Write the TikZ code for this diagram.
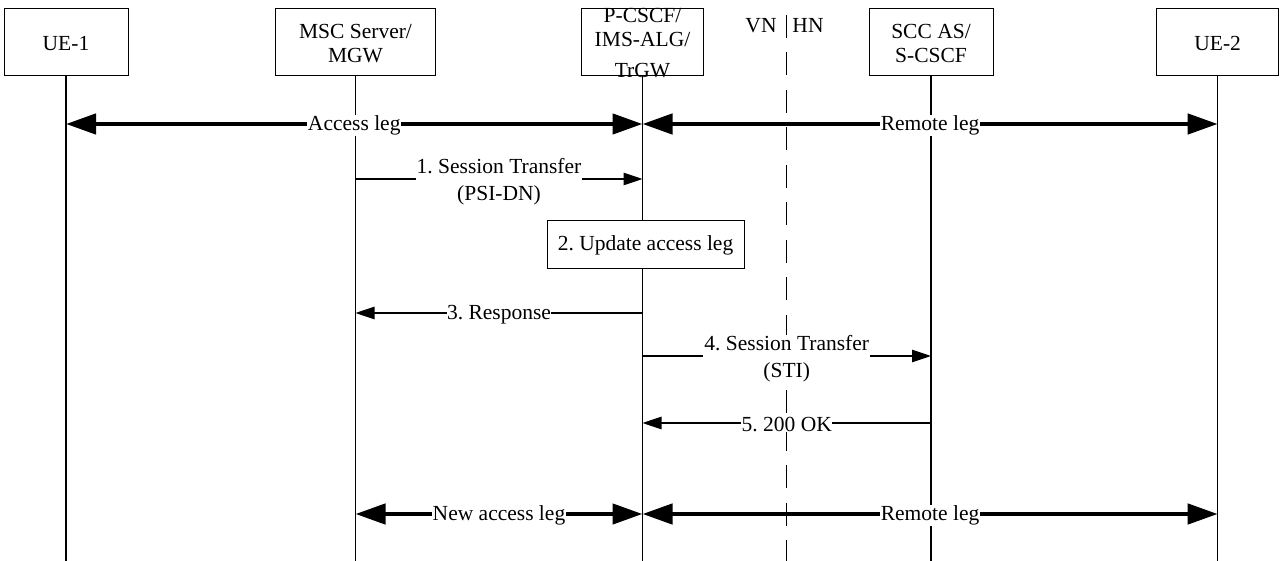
\documentclass[tikz,border=0pt]{standalone}
\usepackage{fontspec}
\setmainfont{Liberation Serif}
\usetikzlibrary{arrows.meta}
\frenchspacing
\begin{document}
\begin{tikzpicture}[x=1pt,y=-1pt,
  every node/.style={font=\fontsize{21.5}{24.5}\selectfont},
  ent/.style={draw, line width=1pt, minimum height=67.5pt, inner sep=0pt, fill=white},
  enttxt/.style={align=center, inner sep=0pt},
  life/.style={line width=1.2pt},
  msg/.style={line width=1.2pt, -{Triangle[length=19pt,width=12.5pt]}},
  leg/.style={line width=4.5pt, {Triangle[length=30pt,width=20pt]}-{Triangle[length=30pt,width=20pt]}},
  lbl/.style={fill=white, inner sep=1pt, align=center, font=\fontsize{21.5}{27}\selectfont},
  lbl1/.style={lbl, inner sep=0.5pt, yshift=-1.5pt},
  lbl2/.style={lbl, yshift=-3pt},
  netline/.style={line width=1.2pt, dash pattern=on 23pt off 14.5pt},
]
\fill[white] (0,0) rectangle (1280,561);
\useasboundingbox (0,0) rectangle (1280,561);

% entity boxes
\node[ent, minimum width=124pt] (ue1) at (66,42) {};
\node[enttxt] (ue1t) at (66,43.5) {UE-1};
\node[ent, minimum width=160.5pt] (msc) at (355.5,42) {};
\node[enttxt] (msct) at (355.5,43.5) {MSC Server/\\MGW};
\node[ent, minimum width=122.5pt] (pcscf) at (642.5,42) {};
\node[enttxt] (pcscft) at (642.5,43) {P-CSCF/\\IMS-ALG/\\[6pt]TrGW};
\node[ent, minimum width=124pt] (scc) at (931,42) {};
\node[enttxt] (scct) at (931,43.5) {SCC AS/\\S-CSCF};
\node[ent, minimum width=122pt] (ue2) at (1217.7,42) {};
\node[enttxt] (ue2t) at (1217.7,43.5) {UE-2};

% network border
\node[enttxt] (vn) at (761,25.5) {VN};
\node[enttxt] (hn) at (808,25.5) {HN};
\coordinate (nbt) at (786.5,15);
\coordinate (nbb) at (786.5,561);
\draw[netline] (nbt) -- (nbb);

% lifelines
\coordinate (ue1e) at (66,561);
\coordinate (msce) at (355.5,561);
\coordinate (pcscfe) at (642.5,561);
\coordinate (scce) at (931,561);
\coordinate (ue2e) at (1217.7,561);
\draw[life] (ue1) -- (ue1e);
\draw[life] (msc) -- (msce);
\draw[life] (pcscf) -- (pcscfe);
\draw[life] (scc) -- (scce);
\draw[life] (ue2) -- (ue2e);

% legs
\draw[leg] (ue1 |- 0,124) -- (pcscf |- 0,124) node[midway, lbl1] {Access leg};
\draw[leg] (pcscf |- 0,124) -- (ue2 |- 0,124) node[midway, lbl1] {Remote leg};

% 1
\draw[msg] (msc |- 0,179) -- (pcscf |- 0,179) node[midway, lbl2] {1. Session Transfer\\(PSI-DN)};

% 2
\node[draw, fill=white, line width=1pt, minimum width=197pt, minimum height=48pt] (upd) at (645.5,245) {2. Update access leg};

% 3
\draw[msg] (pcscf |- 0,313) -- (msc |- 0,313) node[midway, lbl1] {3. Response};

% 4
\draw[msg] (pcscf |- 0,356) -- (scc |- 0,356) node[midway, lbl2] {4. Session Transfer\\(STI)};

% 5
\draw[msg] (scc |- 0,423) -- (pcscf |- 0,423) node[midway, lbl1] {5. 200 OK};

% new legs
\draw[leg] (msc |- 0,514) -- (pcscf |- 0,514) node[midway, lbl1] {New access leg};
\draw[leg] (pcscf |- 0,514) -- (ue2 |- 0,514) node[midway, lbl1] {Remote leg};
\end{tikzpicture}
\end{document}
